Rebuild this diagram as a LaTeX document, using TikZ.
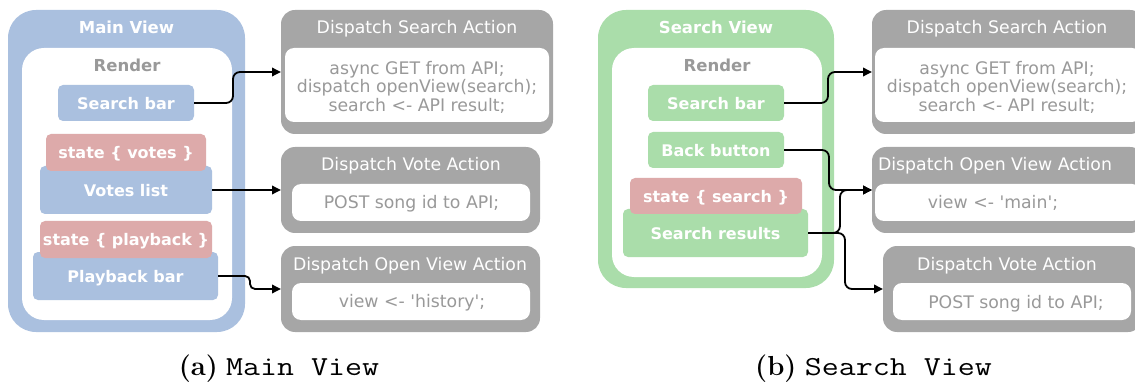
\documentclass[tikz,border=0pt]{standalone}
\usepackage{fontspec}
\usepackage{graphicx}
\newfontfamily\boxfont{DejaVu Sans}
\usetikzlibrary{arrows.meta}
\definecolor{vblue}{HTML}{AAC0DF}
\definecolor{vgreen}{HTML}{AADDAA}
\definecolor{spink}{HTML}{DDAAAA}
\definecolor{dgray}{HTML}{A6A6A6}
\definecolor{tgray}{HTML}{999999}
\tikzset{
  shp/.style={inner sep=0pt, outer sep=0pt, draw=none},
  viewbox/.style={shp, rounded corners=28pt},
  innerbox/.style={shp, fill=white, rounded corners=22pt},
  btn/.style={shp, rounded corners=5pt, font=\boxfont\bfseries\fontsize{16}{18}\selectfont, text=white, text height=16pt, text depth=3.5pt},
  dbox/.style={shp, fill=dgray, rounded corners=14pt},
  wbox/.style={shp, fill=white, rounded corners=9pt},
  vtitle/.style={font=\boxfont\bfseries\fontsize{16.5}{18}\selectfont, text=white, inner sep=0pt, text height=14pt, text depth=3.5pt},
  rtitle/.style={font=\boxfont\bfseries\fontsize{16.5}{18}\selectfont, text=tgray, inner sep=0pt, text height=14pt, text depth=3.5pt},
  dtitle/.style={font=\boxfont\fontsize{17.3}{19}\selectfont, text=white, inner sep=0pt, text height=15.5pt, text depth=3.5pt},
  codetxt/.style={font=\boxfont\fontsize{17.3}{18.5}\selectfont, text=tgray, inner sep=0pt, align=center},
  codeline/.style={font=\boxfont\fontsize{17.3}{18.5}\selectfont, text=tgray, inner sep=0pt, text height=15.5pt, text depth=3.5pt},
  arr/.style={-{Triangle[length=9pt,width=8.5pt]}, line width=1.8pt, rounded corners=7pt},
  captxt/.style={font=\fontsize{27.5}{30}\selectfont, anchor=base, inner sep=0pt}
}
\begin{document}
\begin{tikzpicture}[x=1pt,y=-1pt]
\useasboundingbox (0,0) rectangle (1135,382);
\clip (0,0) rectangle (1135,382);

% ---------- Main View ----------
\node[viewbox, fill=vblue, minimum width=237, minimum height=322] (mv) at (126.5,171) {};
\node[innerbox, minimum width=210, minimum height=272] (mvin) at (127,184) {};
\node[vtitle] (mvt) at (126.5,28) {Main View};
\node[rtitle] (mvr) at (127,66) {Render};
\node[btn, fill=vblue, minimum width=136, minimum height=36] (msb) at (126,103) {Search bar};
\node[btn, fill=vblue, minimum width=172, minimum height=48] (vl) at (126,190) {Votes list};
\node[btn, fill=spink, minimum width=160, minimum height=37] (svotes) at (126,152.5) {state \{ votes \}};
\node[btn, fill=vblue, minimum width=185, minimum height=48] (pb) at (125.5,276) {Playback bar};
\node[btn, fill=spink, minimum width=172, minimum height=37] (splay) at (126,239.5) {state \{ playback \}};

% ---------- Left dispatches ----------
\node[dbox, minimum width=272, minimum height=124] (ds1) at (417,72) {};
\node[wbox, minimum width=264, minimum height=74] (ds1i) at (417,85) {};
\node[dtitle] (ds1t) at (417,28) {Dispatch Search Action};
\node[codetxt] (ds1c) at (417,87) {async GET from API;\\dispatch openView(search);\\search <- API result;};

\node[dbox, minimum width=259, minimum height=86] (dv1) at (410.5,190) {};
\node[wbox, minimum width=238, minimum height=37] (dv1i) at (411,202.5) {};
\node[dtitle] (dv1t) at (411,165) {Dispatch Vote Action};
\node[codeline] (dv1c) at (411.5,202.5) {POST song id to API;};

\node[dbox, minimum width=259, minimum height=86] (do1) at (410.5,289) {};
\node[wbox, minimum width=238, minimum height=37] (do1i) at (411,301.5) {};
\node[dtitle] (do1t) at (410,264) {Dispatch Open View Action};
\node[codeline] (do1c) at (412,301.5) {view <- \textquotesingle history\textquotesingle;};

% ---------- Search View ----------
\node[viewbox, fill=vgreen, minimum width=236, minimum height=278] (sv) at (716,149) {};
\node[innerbox, minimum width=210, minimum height=229] (svin) at (717,162.5) {};
\node[vtitle] (svt) at (716,28) {Search View};
\node[rtitle] (svr) at (717,66) {Render};
\node[btn, fill=vgreen, minimum width=136, minimum height=36] (ssb) at (716,103) {Search bar};
\node[btn, fill=vgreen, minimum width=136, minimum height=36] (bb) at (716,150) {Back button};
\node[btn, fill=vgreen, minimum width=185, minimum height=48] (sr) at (715.5,233) {Search results};
\node[btn, fill=spink, minimum width=172, minimum height=36] (ssearch) at (716,196) {state \{ search \}};

% ---------- Right dispatches ----------
\node[dbox, minimum width=272, minimum height=124] (ds2) at (1008,72) {};
\node[wbox, minimum width=266, minimum height=74] (ds2i) at (1008,85) {};
\node[dtitle] (ds2t) at (1007,28) {Dispatch Search Action};
\node[codetxt] (ds2c) at (1007,87) {async GET from API;\\dispatch openView(search);\\search <- API result;};

\node[dbox, minimum width=272, minimum height=86] (do2) at (1008,190) {};
\node[wbox, minimum width=266, minimum height=37] (do2i) at (1008,202.5) {};
\node[dtitle] (do2t) at (995,165) {Dispatch Open View Action};
\node[codeline] (do2c) at (993,202.5) {view <- \textquotesingle main\textquotesingle;};

\node[dbox, minimum width=259, minimum height=86] (dv2) at (1012.5,289) {};
\node[wbox, minimum width=238, minimum height=37] (dv2i) at (1012,301.5) {};
\node[dtitle] (dv2t) at (1007,264) {Dispatch Vote Action};
\node[codeline] (dv2c) at (1016,302) {POST song id to API;};

% ---------- connectors ----------
\coordinate (k1) at (233,0);
\coordinate (k2) at (250,0);
\coordinate (k3) at (828,0);
\coordinate (k4) at (829,0);
\coordinate (k5) at (840,0);
\coordinate (k6) at (845,0);
\draw[arr] (msb.east) -| (k1 |- ds1.west) -- (ds1.west);
\draw[arr] (vl.east) -- (dv1.west);
\draw[arr, rounded corners=5pt] (pb.east) -| (k2 |- do1.west) -- (do1.west);
\draw[arr] (ssb.east) -| (k3 |- ds2.west) -- (ds2.west);
\draw[arr] (bb.east) -| (k4 |- do2.west) -- (do2.west);
\draw[arr] (sr.east) -| (k5 |- do2.west) -- (do2.west);
\draw[arr] (sr.east) -| (k6 |- dv2.west) -- (dv2.west);

% ---------- captions ----------
\node[captxt] (capa) at (279,375) {\textbf{(a)} \scalebox{1.2}[1]{\ttfamily Main View}};
\node[captxt] (capb) at (873.5,375) {\textbf{(b)} \scalebox{1.2}[1]{\ttfamily Search View}};
\end{tikzpicture}
\end{document}
